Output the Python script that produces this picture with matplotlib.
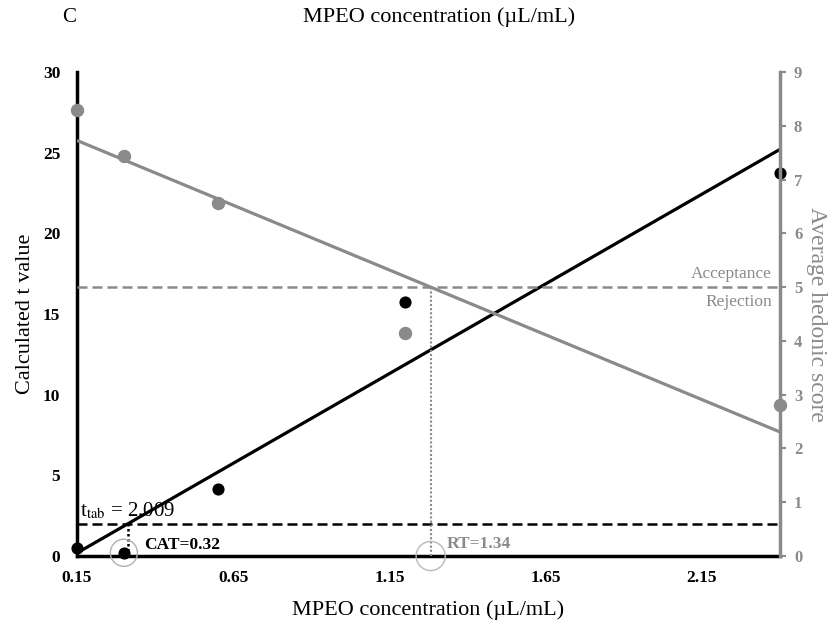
import numpy as np
import matplotlib
matplotlib.use("Agg")
import matplotlib.pyplot as plt

plt.rcParams['font.family'] = ['Liberation Serif', 'DejaVu Serif']
plt.rcParams['mathtext.fontset'] = 'stix'

# Data
conc = [0.15, 0.3, 0.6, 1.2, 2.4]
t_values = [0.5, 0.2, 4.13, 15.76, 23.71]
hedonic = [8.29, 7.43, 6.57, 4.14, 2.81]
t_tab = 2.009
accept_score = 5
x_ticks = [0.15, 0.65, 1.15, 1.65, 2.15]
left_ticks = [0, 5, 10, 15, 20, 25, 30]
right_ticks = list(range(0, 10))
cat_label = "CAT=0.32"
rt_label = "RT=1.34"

GRAY = '#8a8a8a'

fig = plt.figure(figsize=(8.35, 6.23), dpi=100)
ax = fig.add_axes([77/835, 1-556/623, (780-77)/835, (556-72)/623])
ax2 = ax.twinx()

xmin, xmax = min(conc), max(conc)
ax.set_xlim(xmin, xmax)
ax.set_ylim(0, 30)
ax2.set_ylim(0, 9)

# linear fits
mt, bt = np.polyfit(conc, t_values, 1)
mh, bh = np.polyfit(conc, hedonic, 1)
xs = np.array([xmin, xmax])

ax.plot(xs, mt*xs + bt, color='black', lw=2.3, solid_capstyle='butt', zorder=3)
ax2.plot(xs, mh*xs + bh, color=GRAY, lw=2.3, solid_capstyle='butt', zorder=3)

ax.scatter(conc, t_values, s=60, color='black', zorder=5, clip_on=False)
ax2.scatter(conc, hedonic, s=75, color=GRAY, zorder=5, clip_on=False)

# thresholds
ax.axhline(t_tab, color='black', lw=1.8, ls=(0, (4, 2)), zorder=2)
ax2.axhline(accept_score, color=GRAY, lw=1.8, ls=(0, (4, 2)), zorder=2)

cat_x = (t_tab - bt) / mt
rt_x = (accept_score - bh) / mh
ax.plot([cat_x, cat_x], [0, t_tab], color='black', lw=1.8, ls=(0, (1, 1)), zorder=2)
ax2.plot([rt_x, rt_x], [0, accept_score], color=GRAY, lw=1.5, ls=(0, (1, 1)), zorder=2)

ax.scatter([conc[1]], [t_values[1]], s=380, facecolors='none', edgecolors='#b0b0b0',
           linewidths=1.0, zorder=6, clip_on=False)
ax2.scatter([rt_x], [0], s=440, facecolors='none', edgecolors='#b8b8b8',
            linewidths=1.0, zorder=6, clip_on=False)

ax.text(0.16, 2.15, r"t$_{\mathrm{tab}}$ = 2.009", fontsize=15, color='black', va='bottom')
ax.text(cat_x + 0.05, 0.7, cat_label, fontsize=12.5, fontweight='bold', color='black', va='center')
ax2.text(rt_x + 0.05, 0.22, rt_label, fontsize=12.5, fontweight='bold', color=GRAY, va='center')

ax2.text(xmax - 0.025, accept_score + 0.1, "Acceptance", fontsize=12.5, color=GRAY, ha='right', va='bottom')
ax2.text(xmax - 0.025, accept_score - 0.12, "Rejection", fontsize=12.5, color=GRAY, ha='right', va='top')

# axes styling
ax.set_xticks(x_ticks)
ax.set_xticklabels([f"{v:.2f}" for v in x_ticks])
ax.set_yticks(left_ticks)
ax2.set_yticks(right_ticks)

for a in (ax, ax2):
    a.spines['top'].set_visible(False)
ax.spines['right'].set_visible(False)
ax2.spines['left'].set_visible(False)
ax2.spines['bottom'].set_visible(False)
ax.spines['left'].set_linewidth(2.5)
ax.spines['bottom'].set_linewidth(2.5)
ax2.spines['right'].set_linewidth(2.5)
ax2.spines['right'].set_color(GRAY)

ax.tick_params(axis='x', length=0, pad=10, labelsize=12.5)
ax.tick_params(axis='y', length=0, pad=12, labelsize=12.5)
ax2.tick_params(axis='y', length=4, width=1.5, color=GRAY, labelcolor=GRAY, pad=6, labelsize=12)
for lab in ax.get_xticklabels() + ax.get_yticklabels() + ax2.get_yticklabels():
    lab.set_fontweight('bold')

ax.set_xlabel("MPEO concentration (µL/mL)", fontsize=16, labelpad=10)
ax.set_ylabel("Calculated t value", fontsize=16, labelpad=6)
ax2.set_ylabel("Average hedonic score", fontsize=17, color=GRAY, rotation=-90, labelpad=18)

fig.text(439/835, 1-17/623, "MPEO concentration (µL/mL)", fontsize=16, ha='center', va='center')
fig.text(69/835, 1-17/623, "C", fontsize=15, ha='center', va='center')

fig.savefig("out.png", dpi=100)
